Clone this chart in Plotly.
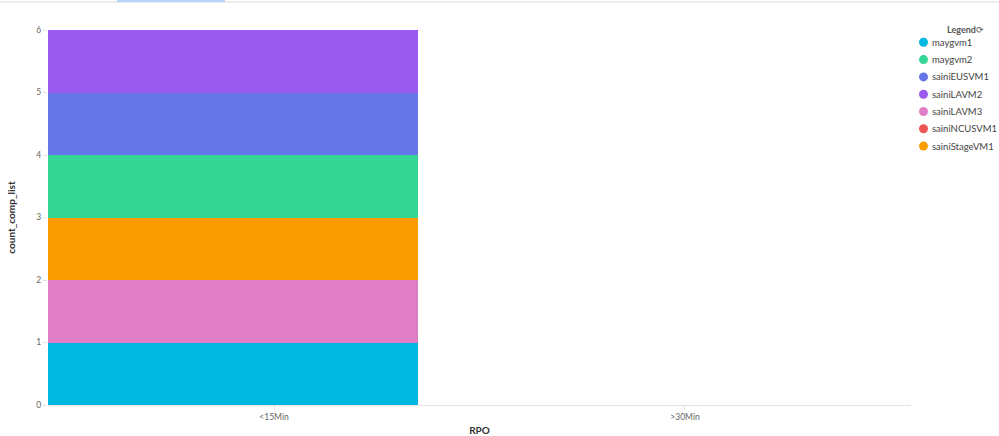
import plotly.graph_objects as go

# RPO buckets and per-VM counts
categories = ["<15Min", ">30Min"]
series_names = ["maygvm1", "maygvm2", "sainiEUSVM1", "sainiLAVM2",
                "sainiLAVM3", "sainiNCUSVM1", "sainiStageVM1"]
colors = ["#00B7E1", "#33D695", "#6576E9", "#9A59EF",
          "#DF7DC5", "#EF5454", "#FA9C00"]
values = {
    "maygvm1": [1, 0],
    "maygvm2": [1, 0],
    "sainiEUSVM1": [1, 0],
    "sainiLAVM2": [1, 0],
    "sainiLAVM3": [1, 0],
    "sainiNCUSVM1": [0, 0],
    "sainiStageVM1": [1, 0],
}
# bottom -> top stacking order seen in the chart
stack_order = ["maygvm1", "sainiLAVM3", "sainiStageVM1", "maygvm2",
               "sainiEUSVM1", "sainiLAVM2", "sainiNCUSVM1"]

color_of = dict(zip(series_names, colors))
FONT = "Segoe UI, Lato, sans-serif"

fig = go.Figure()

for name in stack_order:
    fig.add_trace(go.Bar(
        x=categories, y=values[name], name=name,
        marker=dict(color=color_of[name], line=dict(width=0)),
        width=0.9, offset=-0.55, showlegend=False,
    ))

# plot area in pixels: x 48..911, y 30..405  -> helpers for the legend block
def px_x(p):
    return (p - 48) / 863.0

def px_y(p):
    return (405 - p) / 375.0

# hand-built legend: round dot + label, like the source UI
shapes = [
    dict(type="line", xref="paper", yref="paper", x0=px_x(0), x1=px_x(999),
         y0=px_y(2), y1=px_y(2), line=dict(color="#e6e6e6", width=1.5)),
    dict(type="line", xref="paper", yref="paper", x0=px_x(117), x1=px_x(225),
         y0=px_y(0.5), y1=px_y(0.5), line=dict(color="#b8d4fb", width=3)),
]
annotations = [dict(text="<b>Legend</b>⟳", x=px_x(986), y=px_y(29), xref="paper", yref="paper",
                    xanchor="right", yanchor="middle", showarrow=False,
                    font=dict(family=FONT, size=9, color="#555"))]
for i, name in enumerate(series_names):
    yc = 42.3 + 17.3 * i
    shapes.append(dict(type="circle", xref="paper", yref="paper",
                       xsizemode="pixel", ysizemode="pixel",
                       xanchor=px_x(923.5), yanchor=px_y(yc),
                       x0=-4.5, x1=4.5, y0=-4.5, y1=4.5,
                       fillcolor=color_of[name], line=dict(width=0)))
    annotations.append(dict(text=name, x=px_x(930), y=px_y(yc), xref="paper", yref="paper",
                            xanchor="left", yanchor="middle", showarrow=False,
                            font=dict(family=FONT, size=9.5, color="#444")))

fig.update_layout(
    width=999, height=436,
    barmode="stack", showlegend=False,
    paper_bgcolor="white", plot_bgcolor="white",
    font=dict(family=FONT, size=10, color="#666"),
    margin=dict(l=48, r=88, t=30, b=31, autoexpand=False),
    shapes=shapes, annotations=annotations,
)

fig.update_xaxes(
    type="category", range=[-0.55, 1.55],
    showline=True, linecolor="#e3e3e3", linewidth=1,
    ticks="outside", tickcolor="#e3e3e3", ticklen=4,
    showgrid=False, tickfont=dict(size=8.5, color="#666"),
    title=dict(text="<b>RPO</b>", font=dict(size=10, color="#333"), standoff=6),
)
fig.update_yaxes(
    range=[0, 6], dtick=1,
    showgrid=False, zeroline=False, showline=False,
    ticks="outside", tickcolor="#e3e3e3", ticklen=4,
    tickfont=dict(size=8.5, color="#666"),
    title=dict(text="<b>count_comp_list</b>", font=dict(size=10, color="#333"), standoff=18),
)

# page body has a default 8px margin; drop it so the figure sits at the window corner
fig.write_html("out.html", config={"displayModeBar": False},
               post_script="document.body.style.margin='0';")
